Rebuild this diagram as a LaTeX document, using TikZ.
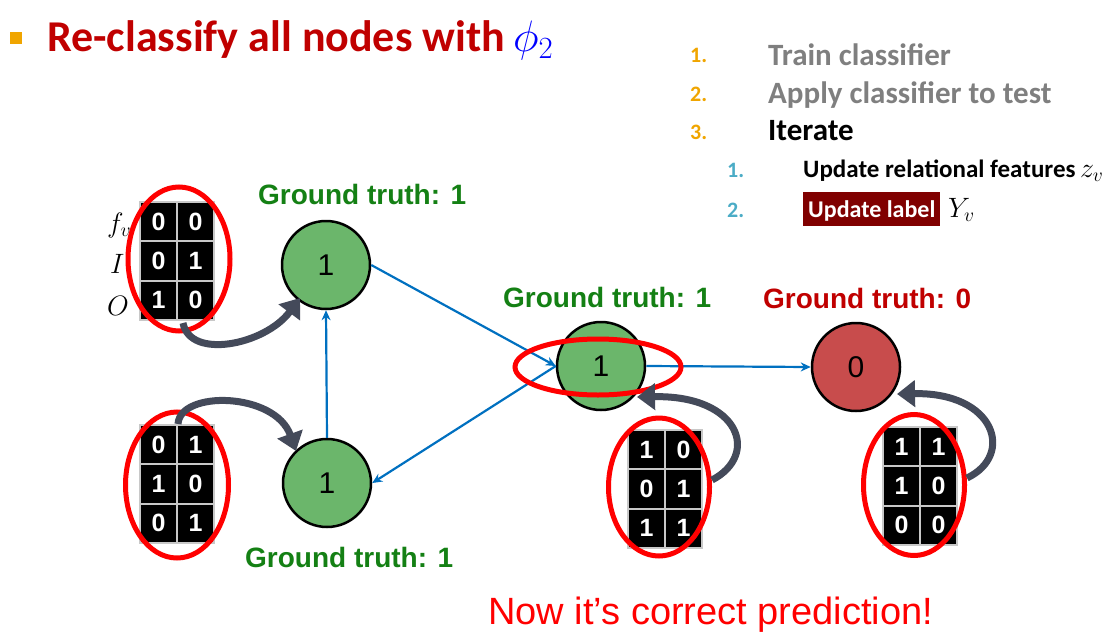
\RequirePackage{fix-cm}
\documentclass[tikz,border=0pt]{standalone}
\usepackage{fontspec}
\setmainfont{Liberation Sans}
\newfontfamily\carl{Carlito}
\usetikzlibrary{arrows.meta,shapes.geometric}
\definecolor{titlered}{RGB}{192,0,0}
\definecolor{gtgreen}{RGB}{20,128,20}
\definecolor{gtred}{RGB}{192,0,0}
\definecolor{nodegreen}{RGB}{107,182,107}
\definecolor{nodered}{RGB}{200,76,76}
\definecolor{edgeblue}{RGB}{0,112,192}
\definecolor{arrowgray}{RGB}{68,74,90}
\definecolor{orangenum}{RGB}{240,165,0}
\definecolor{bluenum}{RGB}{75,172,198}
\definecolor{grayitem}{RGB}{127,127,127}
\definecolor{boxred}{RGB}{128,0,0}
\definecolor{cellsep}{RGB}{200,200,200}
\newcommand\fgrid[9]{%
  \foreach \r/\c/\d in {0/0/#4,0/1/#5,1/0/#6,1/1/#7,2/0/#8,2/1/#9}{%
    \node[cell] (#1-\r-\c) at ({#2+18.5+37*\c},{#3+19.7+39.3*\r}) {\d};}%
}
\begin{document}
\begin{tikzpicture}[x=1pt,y=-1pt,
  txt/.style={anchor=base west,inner sep=0pt},
  gnode/.style={circle,draw=black,line width=2.5pt,minimum size=88pt,inner sep=0pt,font=\fontsize{30}{30}\selectfont},
  cell/.style={rectangle,fill=black,draw=cellsep,line width=1.5pt,minimum width=37pt,minimum height=39pt,inner sep=0pt,text=white,font=\bfseries\fontsize{25}{25}\selectfont},
  redell/.style={ellipse,draw=red,line width=5pt,inner sep=0pt},
  gt/.style={txt,font=\bfseries\fontsize{28}{28}\selectfont},
  bluearrow/.style={draw=edgeblue,line width=2.2pt,-{Stealth[length=10pt,width=9pt]}},
  grayarrow/.style={draw=arrowgray,line width=7pt,-{Triangle[length=18pt,width=26pt]}},
  numo/.style={txt,text=orangenum,font=\carl\bfseries\fontsize{22}{22}\selectfont},
  numb/.style={txt,text=bluenum,font=\carl\bfseries\fontsize{22}{22}\selectfont},
  item/.style={txt,font=\carl\bfseries\fontsize{31}{31}\selectfont},
  subitem/.style={txt,font=\carl\bfseries\fontsize{25}{25}\selectfont}
]
\useasboundingbox (0,0) rectangle (1115,642);
% title
\node[fill=orangenum,minimum size=12pt,inner sep=0pt] (bullet) at (16,38) {};
\node[txt,text=titlered,font=\carl\bfseries\fontsize{44}{50}\selectfont] (title) at (47,52) {Re-classify all nodes with};
\node[txt,text=blue,font=\fontsize{44}{50}\selectfont] (phi) at (513,52) {$\phi_2$};
% list
\node[numo] (n1) at (690,63) {1.};
\node[item,text=grayitem] (i1) at (768,65) {Train classifier};
\node[numo] (n2) at (690,101) {2.};
\node[item,text=grayitem] (i2) at (768,103) {Apply classifier to test};
\node[numo] (n3) at (690,139) {3.};
\node[item,text=black] (i3) at (768,140) {Iterate};
\node[numb] (s1) at (727,177) {1.};
\node[subitem] (si1) at (803,177) {Update relational features};
\node[txt,font=\fontsize{28}{28}\selectfont] (zv) at (1080,177) {$z_v$};
\node[numb] (s2) at (727,217) {2.};
\node[anchor=base west,fill=boxred,text=white,inner xsep=5pt,inner ysep=3pt,text height=22pt,text depth=6pt,font=\carl\bfseries\fontsize{24}{24}\selectfont] (si2) at (803,217) {Update label};
\node[txt,font=\fontsize{28}{28}\selectfont] (yv) at (948,217) {$Y_v$};
% graph nodes
\node[gnode,fill=nodegreen] (A) at (326,265) {1};
\node[gnode,fill=nodegreen] (B) at (327,483) {1};
\node[gnode,fill=nodegreen] (C) at (601,366) {1};
\node[gnode,fill=nodered] (D) at (856,367) {0};
% ground truth labels
\node[gt,text=gtgreen] (gA) at (258,204) {Ground truth: 1};
\node[gt,text=gtgreen] (gC) at (503,307) {Ground truth: 1};
\node[gt,text=gtred] (gD) at (763,308) {Ground truth: 0};
\node[gt,text=gtgreen] (gB) at (245,567) {Ground truth: 1};
% blue edges
\draw[bluearrow] (A.east) -- (C.west);
\draw[bluearrow] (C.west) -- (B.east);
\draw[bluearrow] (B.north) -- (A.south);
\draw[bluearrow] (C.east) -- (D.west);
% feature grids
\fgrid{ga}{140}{202}{0}{0}{0}{1}{1}{0}
\fgrid{gb}{140}{425}{0}{1}{1}{0}{0}{1}
\fgrid{gc}{628}{430}{1}{0}{0}{1}{1}{1}
\fgrid{gd}{883}{427}{1}{1}{1}{0}{0}{0}
\node[txt,font=\fontsize{28}{28}\selectfont] (lf) at (107,232) {$f_v$};
\node[txt,font=\fontsize{28}{28}\selectfont] (lI) at (110,273) {$I$};
\node[txt,font=\fontsize{28}{28}\selectfont] (lO) at (107,315) {$O$};
% red ellipses
\node[redell,minimum width=102pt,minimum height=144pt] (e1) at (179,259) {};
\node[redell,minimum width=103pt,minimum height=146pt] (e2) at (177,485) {};
\node[redell,minimum width=101pt,minimum height=138pt] (e3) at (659,487) {};
\node[redell,minimum width=101pt,minimum height=141pt] (e4) at (914,485) {};
\node[redell,minimum width=166pt,minimum height=56pt] (eC) at (598,367) {};
% gray arrows
\coordinate (a1s) at (183,323);
\coordinate (a1e) at (300,298);
\draw[grayarrow] (a1s) .. controls (190,360) and (265,345) .. (a1e);
\coordinate (a2s) at (178,424);
\coordinate (a2e) at (296,451);
\draw[grayarrow] (a2s) .. controls (180,390) and (275,392) .. (a2e);
\coordinate (a3s) at (712,480);
\coordinate (a3e) at (637,397);
\draw[grayarrow] (a3s) .. controls (760,455) and (740,395) .. (a3e);
\coordinate (a4s) at (967,478);
\coordinate (a4e) at (897,394);
\draw[grayarrow] (a4s) .. controls (1015,455) and (995,392) .. (a4e);
% bottom text
\node[txt,text=red,font=\fontsize{38}{38}\selectfont] (now) at (488,624) {Now it’s correct prediction!};
\end{tikzpicture}
\end{document}
